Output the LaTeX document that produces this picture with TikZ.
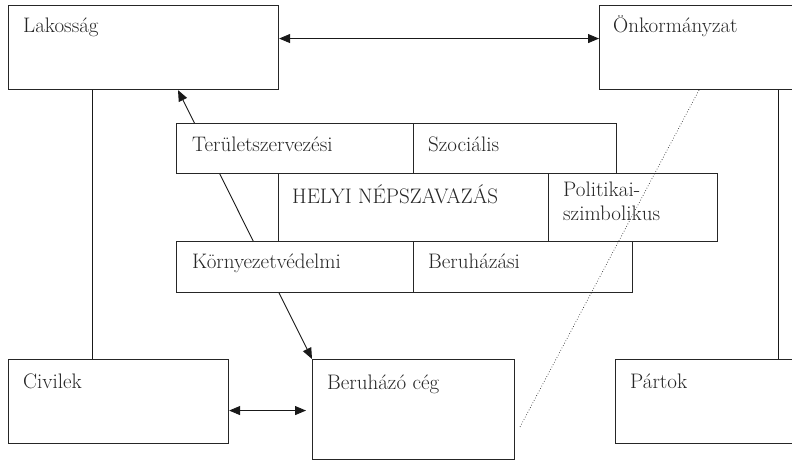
\documentclass[tikz,border=0pt]{standalone}
\usetikzlibrary{arrows.meta}
\tikzset{
  box/.style={draw=black!85, line width=1.1pt, fill=white, inner sep=0pt, anchor=north west},
  lbl/.style={anchor=base west, inner sep=0pt, font=\fontsize{21}{25}\selectfont, text=black!85},
  conn/.style={line width=0.9pt, draw=black!90},
  biarrow/.style={conn, {Triangle[length=11pt,width=9pt]}-{Triangle[length=11pt,width=9pt]}}
}
\begin{document}
\begin{tikzpicture}[x=1pt, y=-1pt]
	\useasboundingbox (0,0) rectangle (792,460);
	
	% Outer actors
	\node[box, minimum width=270, minimum height=84] (lak) at (8,5) {};
	\node[box, minimum width=240, minimum height=84] (onk) at (599,5) {};
	\node[box, minimum width=220, minimum height=84] (civ) at (8,359) {};
	\node[box, minimum width=202, minimum height=99.5] (ber) at (312,359) {};
	\node[box, minimum width=240, minimum height=84] (par) at (615,359) {};
	
	\node[lbl] (laktxt) at (23,33) {Lakosság};
	\node[lbl] (onktxt) at (613,33) {Önkormányzat};
	\node[lbl] (civtxt) at (23,388) {Civilek};
	\node[lbl] (bertxt) at (327,389) {Beruházó cég};
	\node[lbl] (partxt) at (630,388) {Pártok};
	
	% Connectors between the actors
	\draw[conn] ([xshift=84pt]lak.south west) -- ([xshift=84pt]civ.north west);
	\draw[conn] ([xshift=179pt]onk.south west) -- ([xshift=179pt]onk.south west |- par.north);
	\draw[biarrow] ([yshift=9pt]lak.east) -- ([yshift=9pt]lak.east -| onk.west);
	\coordinate (civarr) at ([yshift=-9pt]civ.east);
	\draw[biarrow, shorten >=6pt] (civarr) -- (civarr -| ber.west);
	\draw[biarrow] ([xshift=170pt]lak.south west) -- (ber.north west);
	
	% Types of local referendum
	\node[box, minimum width=237, minimum height=50] (ter) at (176,123) {};
	\node[box, minimum width=203, minimum height=50] (szoc) at (413,123) {};
	\node[box, minimum width=270, minimum height=68] (hely) at (278,173) {};
	\node[box, minimum width=169, minimum height=68] (pol) at (548,173) {};
	\node[box, minimum width=237, minimum height=51] (kor) at (176,241) {};
	\node[box, minimum width=219, minimum height=51] (beru) at (413,241) {};
	
	\node[lbl] (tertxt) at (192,151) {Területszervezési};
	\node[lbl] (szoctxt) at (428,151) {Szociális};
	\node[lbl] (helytxt) at (292,203) {HELYI NÉPSZAVAZÁS};
	\node[lbl] (poltxt) at (563,196) {Politikai-};
	\node[lbl] (poltxtb) at (563,220) {szimbolikus};
	\node[lbl] (kortxt) at (192,268) {Környezetvédelmi};
	\node[lbl] (berutxt) at (428,268) {Beruházási};
	
	% Dotted link
	\coordinate (dotend) at (520,427);
	\draw[line width=0.7pt, dotted, black!80] ([xshift=100pt]onk.south west) -- (dotend);
\end{tikzpicture}
\end{document}
